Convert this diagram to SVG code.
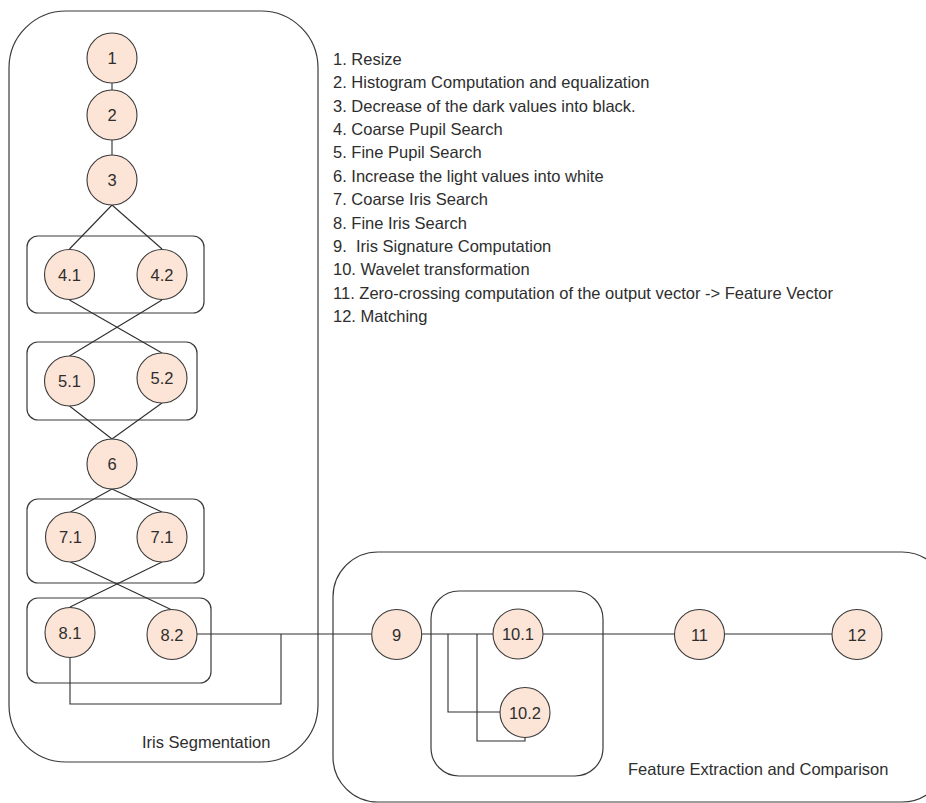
<svg xmlns="http://www.w3.org/2000/svg" width="926" height="803" viewBox="0 0 926 803">
  <style>
    .grp { fill: none; stroke: #3a3a3a; stroke-width: 1.2; }
    .node circle { fill: #fce4d6; stroke: #3a3a3a; stroke-width: 1.1; }
    .node text, .lbl { font-family: "Liberation Sans", Arial, sans-serif; font-size: 16.5px; fill: #2e2e2e; }
    .node text { text-anchor: middle; dominant-baseline: central; }
    .lbl { white-space: pre; }
    .conn { fill: none; stroke: #2e2e2e; stroke-width: 1.1; }
  </style>
  <rect width="926" height="803" fill="#ffffff"/>

  <!-- group frames -->
  <g id="groups">
    <rect class="grp" x="9" y="11" width="309" height="751" rx="57" ry="57"/>
    <rect class="grp" x="333" y="552" width="614" height="250" rx="45" ry="45"/>
    <rect class="grp" x="27" y="236" width="177" height="77" rx="11" ry="11"/>
    <rect class="grp" x="27" y="342" width="170" height="78" rx="11" ry="11"/>
    <rect class="grp" x="27" y="499" width="177" height="84" rx="11" ry="11"/>
    <rect class="grp" x="27" y="598" width="184" height="85" rx="11" ry="11"/>
    <rect class="grp" x="431" y="591" width="172" height="185" rx="28" ry="28"/>
  </g>

  <!-- connectors -->
  <g id="connectors">
    <line class="conn" x1="112" y1="83" x2="112" y2="90"/>
    <line class="conn" x1="112" y1="140" x2="112" y2="155"/>
    <line class="conn" x1="112" y1="205" x2="69.5" y2="249"/>
    <line class="conn" x1="112" y1="205" x2="162" y2="249"/>
    <line class="conn" x1="69.5" y1="300" x2="162" y2="353"/>
    <line class="conn" x1="162" y1="300" x2="69.5" y2="356"/>
    <line class="conn" x1="69.5" y1="406" x2="112" y2="439"/>
    <line class="conn" x1="162" y1="403" x2="112" y2="439"/>
    <line class="conn" x1="112" y1="489" x2="70.5" y2="512"/>
    <line class="conn" x1="112" y1="489" x2="162" y2="512"/>
    <line class="conn" x1="70.5" y1="562" x2="172" y2="610"/>
    <line class="conn" x1="162" y1="562" x2="70" y2="607"/>
    <polyline class="conn" points="197,634 371.5,634"/>
    <polyline class="conn" points="70,658 70,704 281,704 281,634"/>
    <polyline class="conn" points="422,634 493,634"/>
    <polyline class="conn" points="448,634 448,712 500,712"/>
    <polyline class="conn" points="477,634 477,741 525,741 525,737"/>
    <polyline class="conn" points="543,634 674.5,634"/>
    <polyline class="conn" points="724.5,634 832,634"/>
  </g>

  <!-- nodes -->
  <g id="n1" class="node"><circle cx="112" cy="58" r="25"/><text x="112" y="58">1</text></g>
  <g id="n2" class="node"><circle cx="112" cy="115" r="25"/><text x="112" y="115">2</text></g>
  <g id="n3" class="node"><circle cx="112" cy="180" r="25"/><text x="112" y="180">3</text></g>
  <g id="n4_1" class="node"><circle cx="69.5" cy="274.5" r="25"/><text x="69.5" y="274.5">4.1</text></g>
  <g id="n4_2" class="node"><circle cx="162" cy="274.5" r="25"/><text x="162" y="274.5">4.2</text></g>
  <g id="n5_1" class="node"><circle cx="69.5" cy="381" r="25"/><text x="69.5" y="381">5.1</text></g>
  <g id="n5_2" class="node"><circle cx="162" cy="378" r="25"/><text x="162" y="378">5.2</text></g>
  <g id="n6" class="node"><circle cx="112" cy="464" r="25"/><text x="112" y="464">6</text></g>
  <g id="n7_1a" class="node"><circle cx="70.5" cy="537" r="25"/><text x="70.5" y="537">7.1</text></g>
  <g id="n7_1b" class="node"><circle cx="162" cy="537" r="25"/><text x="162" y="537">7.1</text></g>
  <g id="n8_1" class="node"><circle cx="70" cy="632.5" r="25"/><text x="70" y="632.5">8.1</text></g>
  <g id="n8_2" class="node"><circle cx="172" cy="634.5" r="25"/><text x="172" y="634.5">8.2</text></g>
  <g id="n9" class="node"><circle cx="396.7" cy="634.5" r="25"/><text x="396.7" y="634.5">9</text></g>
  <g id="n10_1" class="node"><circle cx="518" cy="634" r="25"/><text x="518" y="634">10.1</text></g>
  <g id="n10_2" class="node"><circle cx="525" cy="712.5" r="25"/><text x="525" y="712.5">10.2</text></g>
  <g id="n11" class="node"><circle cx="699.5" cy="634.5" r="25"/><text x="699.5" y="634.5">11</text></g>
  <g id="n12" class="node"><circle cx="857" cy="634.5" r="25"/><text x="857" y="634.5">12</text></g>

  <!-- group titles -->
  <g id="titles">
    <text class="lbl" x="142" y="748">Iris Segmentation</text>
    <text class="lbl" x="628" y="775">Feature Extraction and Comparison</text>
  </g>

  <!-- step legend -->
  <g id="legend">
    <text class="lbl" x="333" y="65">1. Resize</text>
    <text class="lbl" x="333" y="88.4">2. Histogram Computation and equalization</text>
    <text class="lbl" x="333" y="111.7">3. Decrease of the dark values into black.</text>
    <text class="lbl" x="333" y="135.1">4. Coarse Pupil Search</text>
    <text class="lbl" x="333" y="158.4">5. Fine Pupil Search</text>
    <text class="lbl" x="333" y="181.8">6. Increase the light values into white</text>
    <text class="lbl" x="333" y="205.2">7. Coarse Iris Search</text>
    <text class="lbl" x="333" y="228.5">8. Fine Iris Search</text>
    <text class="lbl" x="333" y="251.9">9.  Iris Signature Computation</text>
    <text class="lbl" x="333" y="275.2">10. Wavelet transformation</text>
    <text class="lbl" x="333" y="298.6">11. Zero-crossing computation of the output vector -&gt; Feature Vector</text>
    <text class="lbl" x="333" y="322">12. Matching</text>
  </g>
</svg>
